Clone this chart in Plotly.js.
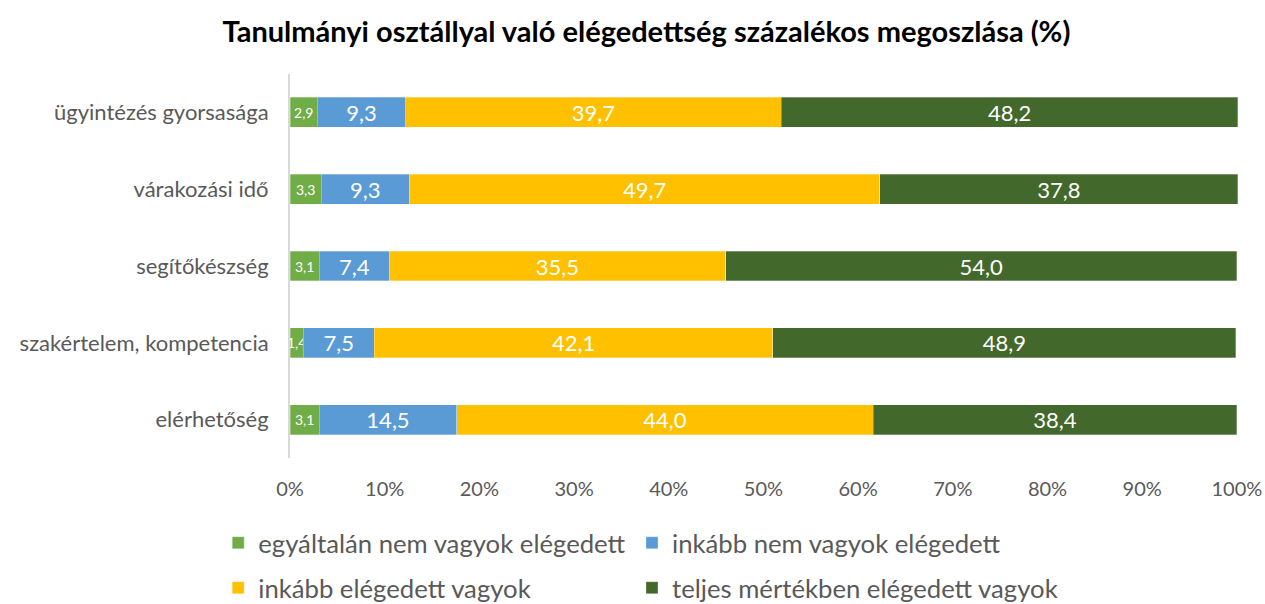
<!DOCTYPE html>
<html><head><meta charset="utf-8">
<script src="https://cdn.plot.ly/plotly-3.0.1.min.js"></script>
<style>body{margin:0;background:#fff}#c{width:1265px;height:604px}</style>
</head><body><div id="c"></div>
<script>
const categories = ["ügyintézés gyorsasága","várakozási idő","segítőkészség","szakértelem, kompetencia","elérhetőség"];
const seriesNames = ["egyáltalán nem vagyok elégedett","inkább nem vagyok elégedett","inkább elégedett vagyok","teljes mértékben elégedett vagyok"];
const notSatisfied = [2.9,3.3,3.1,1.4,3.1];
const ratherNot = [9.3,9.3,7.4,7.5,14.5];
const ratherSatisfied = [39.7,49.7,35.5,42.1,44.0];
const fullySatisfied = [48.2,37.8,54.0,48.9,38.4];
const xTicks = [0,10,20,30,40,50,60,70,80,90,100];

const colors = ["#70AD47","#5B9BD5","#FFC000","#43682B"];
const values = [notSatisfied, ratherNot, ratherSatisfied, fullySatisfied];
const font = "Lato, 'Open Sans', sans-serif";
const legendIds = ['legend','legend2','legend3','legend4'];
const traces = values.map((v,i)=>({
  type:'bar', orientation:'h', name:seriesNames[i], x:v, y:categories,
  marker:{color:colors[i], line:{color:'rgba(255,255,255,0.6)', width:0.5}},
  texttemplate:'%{x:.1f}', textposition:'inside', insidetextanchor:'middle',
  constraintext:'none', textangle:0,
  textfont:{color:'#ffffff', size: i===0 ? 14 : 22, family:font},
  hoverinfo:'none', cliponaxis:false,
  legend: legendIds[i]
}));
const legendBase = {orientation:'h', xref:'container', xanchor:'left', yref:'container', yanchor:'middle', font:{size:25.7, color:'#595959'}, itemwidth:30, bgcolor:'rgba(0,0,0,0)'};
const legendPos = [[0.1725, 1-543/604],[0.4996, 1-543/604],[0.1725, 1-588/604],[0.4996, 1-588/604]];
const layout = {
  width:1265, height:604, barmode:'stack', bargap:0.61,
  separators:', ',
  paper_bgcolor:'#fff', plot_bgcolor:'#fff',
  margin:{l:290, r:27, t:74, b:146},
  font:{family:font, color:'#595959', size:22},
  title:{text:'<b>Tanulmányi osztállyal való elégedettség százalékos megoszlása (%)</b>', x:0.511, xref:'container', y:0.947, yref:'container', xanchor:'center', yanchor:'middle', font:{size:29, color:'#000', family:font}},
  xaxis:{range:[0,100.12], tickvals:xTicks, ticktext:xTicks.map(t=>t+'%'), showgrid:false, zeroline:false, showline:false, ticks:'', ticklabelstandoff:17, tickfont:{size:20, color:'#595959'}, fixedrange:true},
  yaxis:{categoryorder:'array', categoryarray:categories, autorange:'reversed', showgrid:false, zeroline:false, showline:true, linecolor:'#d9d9d9', linewidth:2, ticks:'', ticklabelstandoff:15, tickfont:{size:22, color:'#595959'}},
  showlegend:true
};
legendIds.forEach((id,i)=>{ layout[id] = Object.assign({}, legendBase, {x:legendPos[i][0], y:legendPos[i][1]}); });
Plotly.newPlot('c', traces, layout, {displayModeBar:false, staticPlot:true});
</script></body></html>
